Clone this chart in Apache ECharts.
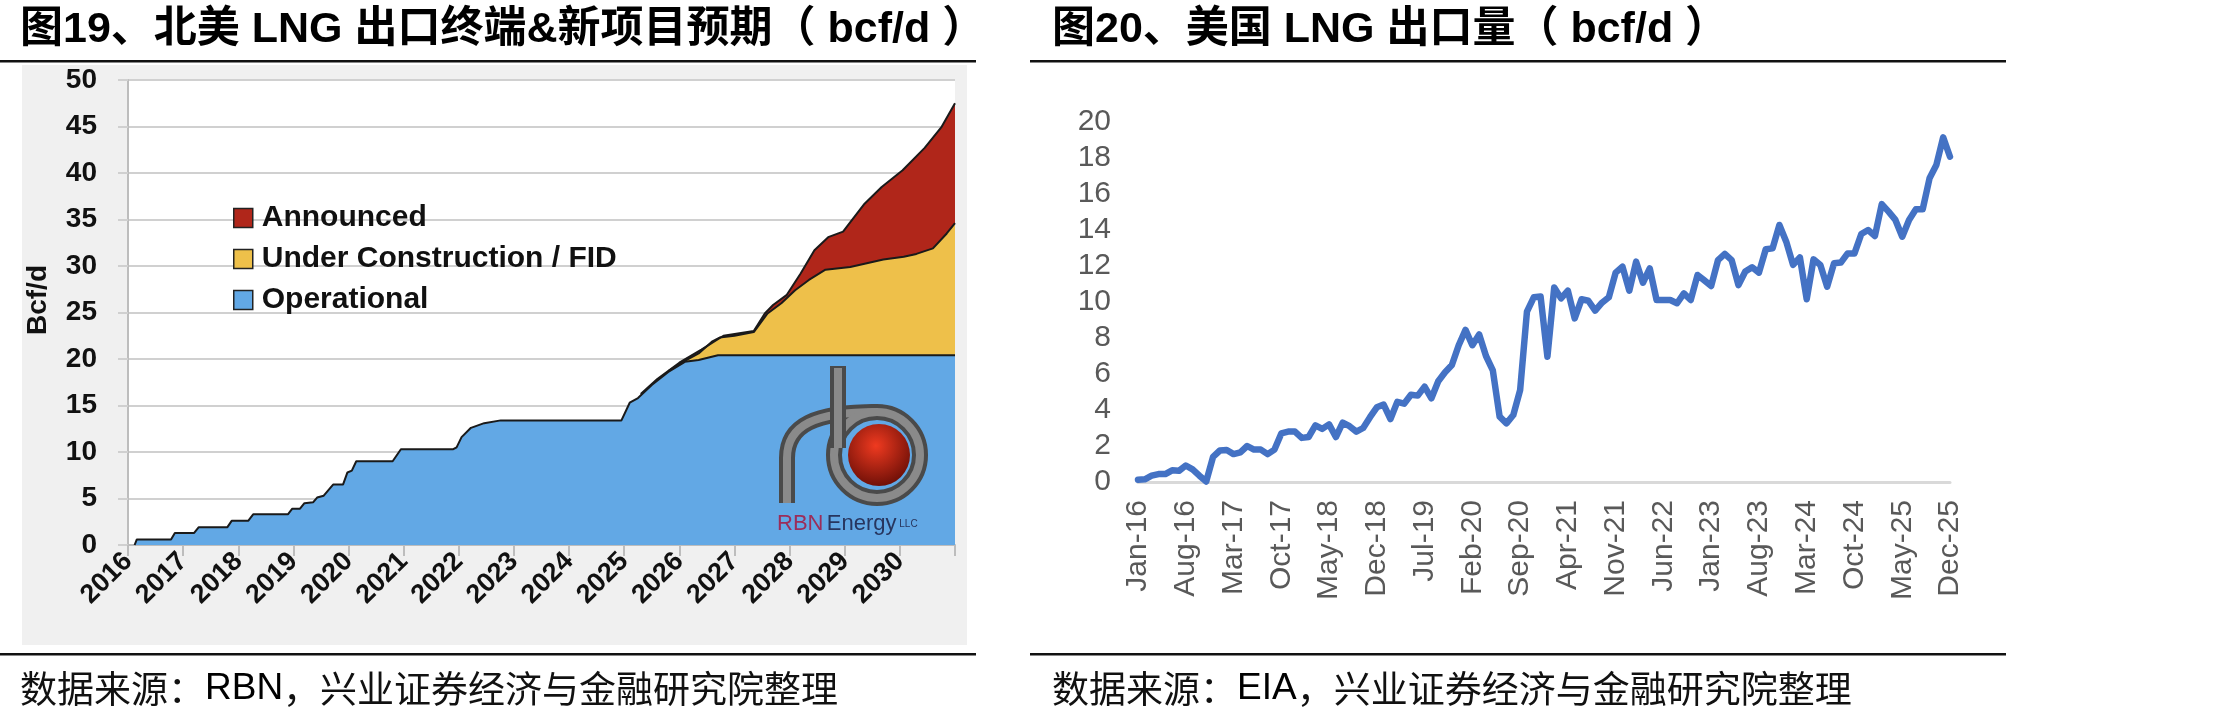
<!DOCTYPE html>
<html><head><meta charset="utf-8">
<script src="https://cdn.jsdelivr.net/npm/echarts@6/dist/echarts.min.js"></script>
<style>html,body{margin:0;padding:0;background:#fff}#c{width:2221px;height:719px}</style>
</head><body><div id="c"></div>
<script>
// ---------- Left chart: North American LNG export capacity (Bcf/d) ----------
const yearTicks = [2016,2017,2018,2019,2020,2021,2022,2023,2024,2025,2026,2027,2028,2029,2030];
const operational = [[2016.12,0],[2016.16,0.6],[2016.78,0.6],[2016.85,1.3],[2017.2,1.3],[2017.28,1.9],[2017.8,1.9],[2017.88,2.6],[2018.18,2.6],[2018.27,3.3],[2018.9,3.3],[2018.98,3.9],[2019.12,3.9],[2019.2,4.5],[2019.36,4.6],[2019.43,5.1],[2019.55,5.3],[2019.72,6.5],[2019.9,6.5],[2019.98,7.8],[2020.06,8.0],[2020.14,9.0],[2020.8,9.0],[2020.95,10.3],[2021.9,10.3],[2021.96,10.5],[2022.05,11.6],[2022.22,12.6],[2022.46,13.1],[2022.76,13.4],[2024.95,13.4],[2025.1,15.3],[2025.25,15.8],[2025.5,17.2],[2025.8,18.6],[2026.1,19.7],[2026.35,19.9],[2026.7,20.4],[2031,20.4]];
const underConstruction = [[2025.8,18.7],[2026.1,19.8],[2026.35,20.6],[2026.6,21.9],[2026.73,22.3],[2027.0,22.5],[2027.35,22.9],[2027.6,24.9],[2027.85,26.0],[2028.1,27.4],[2028.35,28.5],[2028.65,29.6],[2029.1,29.9],[2029.4,30.3],[2029.7,30.7],[2030.07,31.0],[2030.3,31.3],[2030.6,31.9],[2030.85,33.5],[2031.0,34.6]];
const announced = [[2025.3,16.25],[2025.6,17.85],[2026.0,19.6],[2026.4,21.0],[2026.8,22.5],[2027.35,23.0],[2027.55,24.9],[2027.7,25.8],[2027.95,26.9],[2028.2,29.2],[2028.45,31.7],[2028.7,33.1],[2028.97,33.7],[2029.06,34.4],[2029.36,36.7],[2029.67,38.5],[2030.05,40.3],[2030.45,42.7],[2030.75,44.9],[2031.0,47.5]];

// ---------- Right chart: US LNG exports (bcf/d), monthly Jan-16 .. Dec-25 ----------
const monthNames = ['Jan','Feb','Mar','Apr','May','Jun','Jul','Aug','Sep','Oct','Nov','Dec'];
const months = [];
for (let y = 16; y <= 25; y++) for (let m = 0; m < 12; m++) months.push(monthNames[m] + '-' + y);
const usExports = [0.12,0.15,0.35,0.44,0.44,0.65,0.62,0.92,0.7,0.35,0.03,1.4,1.75,1.78,1.55,1.65,2.0,1.8,1.8,1.55,
1.8,2.7,2.8,2.8,2.45,2.5,3.15,2.95,3.2,2.5,3.3,3.1,2.8,3.0,3.6,4.15,4.3,3.5,4.45,4.35,
4.85,4.8,5.3,4.65,5.6,6.1,6.5,7.6,8.45,7.6,8.2,7.0,6.2,3.63,3.26,3.72,5.1,9.46,10.26,10.3,
6.96,10.81,10.2,10.63,9.09,10.15,10.07,9.52,9.96,10.26,11.63,11.96,10.63,12.24,11.07,11.87,10.11,10.11,10.11,9.93,
10.48,10.11,11.5,11.2,10.89,12.33,12.67,12.33,10.94,11.69,11.93,11.63,12.93,12.98,14.28,13.35,12.06,12.48,10.15,12.37,
12.06,10.85,12.15,12.19,12.7,12.7,13.78,14.0,13.67,15.44,15.02,14.56,13.63,14.56,15.15,15.15,16.87,17.61,19.15,18.07];

const SANS = "'Liberation Sans', Arial, 'Noto Sans CJK SC', sans-serif";
const CJK = "'Liberation Sans', 'Noto Sans CJK SC', sans-serif";
const chart = echarts.init(document.getElementById('c'));

const areaSeries = (name, data, color) => ({
  name, type: 'line', xAxisIndex: 0, yAxisIndex: 0, data,
  symbol: 'none', showSymbol: false,
  lineStyle: { color: '#1a1a1a', width: 2 },
  itemStyle: { color },
  areaStyle: { color, opacity: 1 },
  emphasis: { disabled: true }
});

const PIPE_DARK = '#4a4a4a', PIPE_LIGHT = '#8a8a8a';
const legLine = { x1: 787, y1: 503, x2: 787, y2: 458 };
const legArc = { x1: 787, y1: 458, cpx1: 787, cpy1: 425, cpx2: 815, cpy2: 412, x2: 877, y2: 412 };

chart.setOption({
  animation: false,
  backgroundColor: '#fff',
  grid: [
    { left: 128, right: 1266, top: 80, bottom: 174, show: true, backgroundColor: '#fff', borderWidth: 0 },
    { left: 1138, right: 271, top: 122, bottom: 237 }
  ],
  legend: {
    data: ['Announced', 'Under Construction / FID', 'Operational'],
    orient: 'vertical', left: 228, top: 198, itemWidth: 19, itemHeight: 19, itemGap: 11,
    icon: 'rect', selectedMode: false,
    itemStyle: { borderColor: '#222', borderWidth: 1.5 },
    textStyle: { fontSize: 30, fontWeight: 'bold', color: '#111', fontFamily: SANS, padding: [0, 0, 0, 4] }
  },
  xAxis: [
    { type: 'value', gridIndex: 0, min: 2016, max: 2031, interval: 1,
      axisLine: { show: true, lineStyle: { color: '#bdbdbd', width: 2 } },
      axisTick: { show: true, length: 11, lineStyle: { color: '#bdbdbd', width: 2 } },
      splitLine: { show: false },
      axisLabel: { rotate: 45, margin: 12, fontSize: 27, fontWeight: 'bold', color: '#111', fontFamily: SANS,
        formatter: v => (yearTicks.indexOf(v) >= 0 ? String(v) : '') } },
    { type: 'category', gridIndex: 1, data: months, boundaryGap: false,
      axisLine: { show: true, lineStyle: { color: '#d9d9d9', width: 3 } },
      axisTick: { show: false },
      axisLabel: { interval: 6, rotate: 90, margin: 18, fontSize: 30, color: '#595959', fontFamily: SANS } }
  ],
  yAxis: [
    { type: 'value', gridIndex: 0, min: 0, max: 50, interval: 5,
      axisLine: { show: true, lineStyle: { color: '#bdbdbd', width: 2 } },
      axisTick: { show: true, length: 10, lineStyle: { color: '#d0d0d0', width: 2 } },
      splitLine: { show: true, lineStyle: { color: '#d0d0d0', width: 2 } },
      axisLabel: { margin: 31, fontSize: 28, fontWeight: 'bold', color: '#111', fontFamily: SANS } },
    { type: 'value', gridIndex: 1, min: 0, max: 20, interval: 2,
      axisLine: { show: false }, axisTick: { show: false }, splitLine: { show: false },
      axisLabel: { margin: 27, fontSize: 30, color: '#595959', fontFamily: SANS } }
  ],
  series: [
    areaSeries('Announced', announced, '#b0261a'),
    areaSeries('Under Construction / FID', underConstruction, '#eec04a'),
    areaSeries('Operational', operational, '#62a8e5'),
    { name: 'US LNG exports', type: 'line', xAxisIndex: 1, yAxisIndex: 1, data: usExports,
      symbol: 'none', showSymbol: false,
      lineStyle: { color: '#4472c4', width: 6.5, cap: 'round', join: 'round' } }
  ],
  graphic: [
    { type: 'rect', z: -10, shape: { x: 22, y: 65, width: 945, height: 580 }, style: { fill: '#f0f0f0' } },
    { type: 'rect', shape: { x: 0, y: 60, width: 976, height: 2.5 }, style: { fill: '#111' } },
    { type: 'rect', shape: { x: 1030, y: 60, width: 976, height: 2.5 }, style: { fill: '#111' } },
    { type: 'rect', shape: { x: 0, y: 653, width: 976, height: 2.5 }, style: { fill: '#111' } },
    { type: 'rect', shape: { x: 1030, y: 653, width: 976, height: 2.5 }, style: { fill: '#111' } },
    { type: 'text', x: 20, y: 30, style: { text: '图19、北美 LNG 出口终端&新项目预期（ bcf/d ）', fontSize: 43, fontWeight: 'bold', fontFamily: CJK, fill: '#000', verticalAlign: 'middle', align: 'left' } },
    { type: 'text', x: 1052, y: 30, style: { text: '图20、美国 LNG 出口量（ bcf/d ）', fontSize: 43, fontWeight: 'bold', fontFamily: CJK, fill: '#000', verticalAlign: 'middle', align: 'left' } },
    { type: 'text', x: 20, y: 689, style: { text: '{a|数据来源：}{b|RBN}{a|，兴业证券经济与金融研究院整理}', verticalAlign: 'middle', align: 'left',
        rich: { a: { fontSize: 37, fontFamily: "'Noto Sans CJK SC', sans-serif", fill: '#111' }, b: { fontSize: 37, fontFamily: SANS, fill: '#000' } } } },
    { type: 'text', x: 1052, y: 689, style: { text: '{a|数据来源：}{b|EIA}{a|，兴业证券经济与金融研究院整理}', verticalAlign: 'middle', align: 'left',
        rich: { a: { fontSize: 37, fontFamily: "'Noto Sans CJK SC', sans-serif", fill: '#111' }, b: { fontSize: 37, fontFamily: SANS, fill: '#000' } } } },
    { type: 'text', x: 38, y: 300, rotation: Math.PI / 2, style: { text: 'Bcf/d', fontSize: 28, fontWeight: 'bold', fontFamily: SANS, fill: '#111', align: 'center', verticalAlign: 'middle' } },
    // RBN logo
    { type: 'line', z: 100, shape: legLine, style: { stroke: PIPE_DARK, lineWidth: 16 } },
    { type: 'bezierCurve', z: 100, shape: legArc, style: { fill: null, stroke: PIPE_DARK, lineWidth: 16 } },
    { type: 'circle', z: 100, shape: { cx: 877, cy: 455, r: 43 }, style: { fill: null, stroke: PIPE_DARK, lineWidth: 16 } },
    { type: 'line', z: 101, shape: legLine, style: { stroke: PIPE_LIGHT, lineWidth: 8 } },
    { type: 'bezierCurve', z: 101, shape: legArc, style: { fill: null, stroke: PIPE_LIGHT, lineWidth: 8 } },
    { type: 'circle', z: 101, shape: { cx: 877, cy: 455, r: 43 }, style: { fill: null, stroke: PIPE_LIGHT, lineWidth: 8 } },
    { type: 'circle', z: 102, shape: { cx: 879, cy: 455, r: 31 }, style: { fill: { type: 'radial', x: 0.45, y: 0.35, r: 0.75, colorStops: [{ offset: 0, color: '#ef3a20' }, { offset: 1, color: '#5e0a04' }] } } },
    { type: 'rect', z: 103, shape: { x: 830, y: 366, width: 16, height: 82 }, style: { fill: PIPE_DARK } },
    { type: 'rect', z: 104, shape: { x: 834, y: 368, width: 8, height: 80 }, style: { fill: PIPE_LIGHT } },
    { type: 'text', z: 105, x: 777, y: 524, style: { text: '{r|RBN} {e|Energy}{l| LLC}', verticalAlign: 'middle', align: 'left',
        rich: { r: { fontSize: 22, fontFamily: SANS, fill: '#9b2d5a' }, e: { fontSize: 22, fontFamily: SANS, fill: '#27355e' }, l: { fontSize: 10, fontFamily: SANS, fill: '#27355e' } } } }
  ]
});
</script></body></html>
